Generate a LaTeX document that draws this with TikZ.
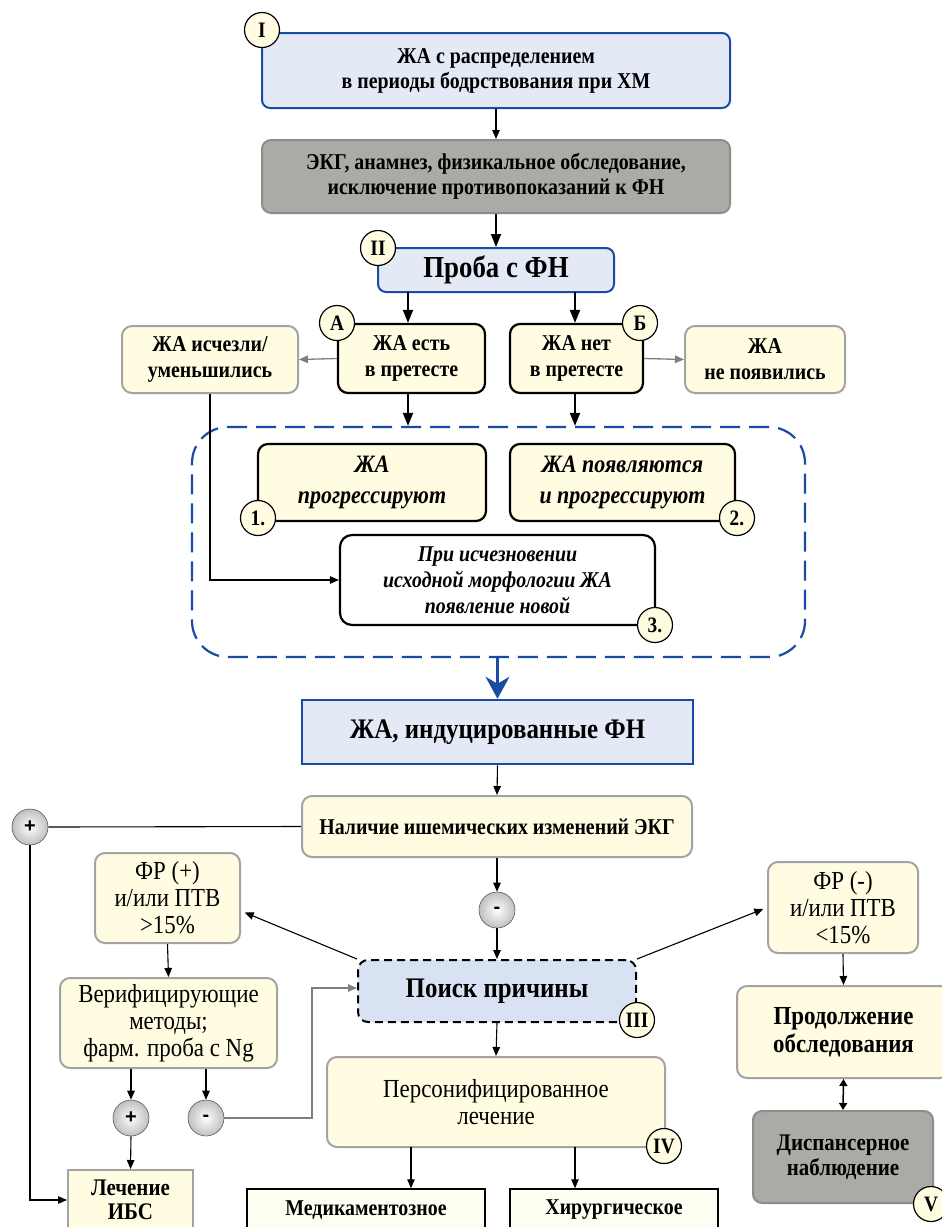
\documentclass[tikz,border=0pt]{standalone}
\usepackage{fontspec}
\setmainfont[FakeStretch=0.88]{Liberation Serif}
\newfontfamily\ballfont{Liberation Sans}
\usetikzlibrary{arrows.meta,calc}
\definecolor{bblue}{HTML}{1A4CA6}
\definecolor{lblue}{HTML}{E3EAF6}
\definecolor{pblue}{HTML}{D9E2F3}
\definecolor{cream}{HTML}{FFFCE1}
\definecolor{cborder}{HTML}{A3A3A3}
\definecolor{gfill}{HTML}{A9ABA6}
\definecolor{gborder}{HTML}{8C8E8A}
\definecolor{garrow}{HTML}{7F7F7F}
\newcommand\fsz[2]{\fontsize{#1}{#2}\selectfont}
\begin{document}
\begin{tikzpicture}[x=1pt,y=-1pt,
  wh/.style 2 args={minimum width=#1pt, minimum height=#2pt, inner sep=0pt, align=center},
  bluebox/.style={draw=bblue, fill=lblue, line width=2pt, rounded corners=8pt},
  graybox/.style={draw=gborder, fill=gfill, line width=2pt, rounded corners=9pt},
  creambox/.style={draw=cborder, fill=cream, line width=2pt, rounded corners=10pt},
  blackcream/.style={draw=black, fill=cream, line width=2.2pt, rounded corners=10pt},
  marker/.style={circle, draw=black, fill=cream, line width=1.2pt, minimum size=35pt, inner sep=0pt, font=\bfseries\fsz{22}{22}},
  ballnode/.style={circle, inner color=white, outer color=gray!50, draw=gray!70!black, line width=0.6pt, minimum size=36pt, inner sep=0pt, font=\ballfont\bfseries\fsz{20}{20}},
  tarr/.style={-{Triangle[length=9pt,width=7.5pt]}, line width=1.1pt},
  karr/.style={-{Triangle[length=13pt,width=10pt]}, line width=1.8pt},
  garr/.style={-{Triangle[length=9pt,width=7.5pt]}, line width=1.3pt, draw=garrow, color=garrow},
  barr/.style={-{Stealth[length=22pt,width=24pt,inset=7pt]}, line width=2.4pt, draw=bblue, fill=bblue},
  dlarr/.style={{Triangle[length=7pt,width=8pt]}-{Triangle[length=7pt,width=8pt]}, line width=1.5pt},
  plain/.style={line width=1.1pt}
]
\useasboundingbox (0,0) rectangle (942,1227);
\fill[white] (0,0) rectangle (942,1227);

% top section
\node[bluebox, wh={468}{75}, font=\bfseries\fsz{22.6}{25}] (n1) at (496,70.5)
  {ЖА с распределением\\в периоды бодрствования при ХМ};
\node[marker] (mI) at (262,30) {I};
\node[graybox, wh={468}{73}, font=\bfseries\fsz{22.6}{25}] (n2) at (496,176.5)
  {ЭКГ, анамнез, физикальное обследование,\\исключение противопоказаний к ФН};
\node[bluebox, wh={236}{44}, font=\bfseries\fsz{30.5}{32}] (proba) at (496,270) {Проба с ФН};
\node[marker] (mII) at (378,248) {II};

\node[blackcream, wh={147}{69}, font=\bfseries\fsz{22.6}{26}] (esty) at (411.5,358.5) {ЖА есть\\в претесте};
\node[blackcream, wh={133}{69}, font=\bfseries\fsz{22.6}{26}] (net) at (576.5,358.5) {ЖА нет\\в претесте};
\node[creambox, wh={176}{67}, font=\bfseries\fsz{22.6}{26}] (gone) at (210,359.5) {ЖА исчезли/\\уменьшились};
\node[creambox, wh={160}{67}, font=\bfseries\fsz{22.6}{26}] (notap) at (765,359.5) {ЖА\\не появились};
\node[marker] (mA) at (337,323) {А};
\node[marker] (mB) at (640,323) {Б};

% dashed region
\node[draw=bblue, line width=2.2pt, dash pattern=on 20pt off 9pt, rounded corners=36pt, wh={613}{230}] (region) at (498.5,542) {};
\node[blackcream, wh={228}{77}, font=\bfseries\itshape\fsz{25}{31}] (prog) at (372,482.5) {ЖА\\прогрессируют};
\node[blackcream, wh={225}{77}, font=\bfseries\itshape\fsz{25}{31}] (prog2) at (622.5,482.5) {ЖА появляются\\и прогрессируют};
\node[draw=black, fill=white, line width=2.2pt, rounded corners=12pt, wh={315}{90}, font=\bfseries\itshape\fsz{22.6}{26}] (disap) at (497.5,580)
  {При исчезновении\\исходной морфологии ЖА\\появление новой};
\node[marker] (m1) at (258,518) {1.};
\node[marker] (m2) at (737,518) {2.};
\node[marker] (m3) at (655,625) {3.};

% middle
\node[draw=bblue, fill=lblue, line width=2.5pt, wh={391}{64}, font=\bfseries\fsz{28.3}{30}] (ind) at (497.5,732) {ЖА, индуцированные ФН};
\node[creambox, wh={390}{61}, font=\bfseries\fsz{22.6}{26}] (ish) at (497,826.5) {Наличие ишемических изменений ЭКГ};
\node[ballnode] (bp1) at (30,827) {+};
\node[ballnode] (bm1) at (497,910) {-};
\node[draw=black, fill=pblue, line width=2pt, dash pattern=on 8pt off 5pt, rounded corners=10pt, wh={278}{62}, font=\bfseries\fsz{28.3}{30}] (poisk) at (497,991) {Поиск причины};
\node[marker] (mIII) at (637,1020) {III};

\node[creambox, wh={145}{90}, font=\fsz{26}{27}] (frp) at (167.5,898) {ФР (+)\\и/или ПТВ\\>15\%};
\node[creambox, wh={150}{91}, font=\fsz{26}{27}] (frm) at (843,907.5) {ФР (-)\\и/или ПТВ\\<15\%};
\node[creambox, wh={217}{90}, font=\fsz{26}{27}] (verif) at (168.5,1023) {Верифицирующие\\методы;\\фарм. проба с Ng};
\node[ballnode] (bp2) at (131,1118) {+};
\node[ballnode] (bm2) at (206,1118) {-};
\node[draw=cborder, fill=cream, line width=2pt, wh={125}{60}, font=\bfseries\fsz{23.8}{24}] (lech) at (130.5,1200) {Лечение\\ИБС};

\node[creambox, wh={338}{90}, font=\fsz{26}{27}] (pers) at (496,1102) {Персонифицированное\\лечение};
\node[marker] (mIV) at (664,1146) {IV};
\node[draw=black, fill=cream!40, line width=1.5pt, wh={238}{42}, font=\bfseries\fsz{22.6}{24}] (med) at (366,1210) {Медикаментозное};
\node[draw=black, fill=cream!40, line width=1.5pt, wh={208}{42}, font=\bfseries\fsz{22.6}{24}] (hir) at (614,1210) {Хирургическое};

\node[creambox, wh={213}{92}, font=\bfseries\fsz{26}{28}] (prod) at (843.5,1032) {Продолжение\\обследования};
\node[graybox, wh={180}{92}, font=\bfseries\fsz{23.8}{25}] (disp) at (843,1157) {Диспансерное\\наблюдение};
\node[marker] (mV) at (931,1204) {V};

% connectors
\draw[tarr] (n1.south) -- (n2.north);
\draw[karr] (n2.south) -- (proba.north);
\coordinate (pa) at (408,292);
\coordinate (pb) at (575,292);
\draw[karr] (pa) -- (pa |- esty.north);
\draw[karr] (pb) -- (pb |- net.north);
\draw[garr] (esty.west) -- (gone.east);
\draw[garr] (net.east) -- (notap.west);
\coordinate (ea) at (408,393);
\coordinate (eb) at (575,393);
\draw[karr] (ea) -- (ea |- region.north);
\draw[karr] (eb) -- (eb |- region.north);
\draw[tarr] (gone.south) |- (disap.west);
\draw[barr] (region.south -| ind.north) -- (ind.north);
\draw[tarr] (ind.south) -- (ish.north);
\draw[plain] (ish.west) -- (bp1.east);
\draw[tarr] (bp1.south) |- (lech.west);
\draw[tarr] (ish.south) -- (bm1.north);
\draw[tarr] (bm1.south) -- (poisk.north);
\draw[tarr, shorten >=4pt] (poisk.north west) -- (frp.-10);
\draw[tarr, shorten >=4pt] (poisk.north east) -- (frm.west);
\draw[tarr] (frp.south) -- (verif.north);
\draw[tarr] (bp2.north |- verif.south) -- (bp2.north);
\draw[tarr] (bm2.north |- verif.south) -- (bm2.north);
\draw[tarr] (bp2.south) -- (lech.north);
\coordinate (gb) at (312,988);
\draw[garr] (bm2.east) -| (gb) -- (gb -| poisk.west);
\draw[tarr] (poisk.south) -- (pers.north);
\coordinate (qa) at (411,1147);
\coordinate (qb) at (575,1147);
\draw[tarr] (qa) -- (qa |- med.north);
\draw[tarr] (qb) -- (qb |- hir.north);
\draw[tarr] (frm.south) -- (prod.north);
\draw[dlarr] (prod.south) -- (disp.north);
\end{tikzpicture}
\end{document}
